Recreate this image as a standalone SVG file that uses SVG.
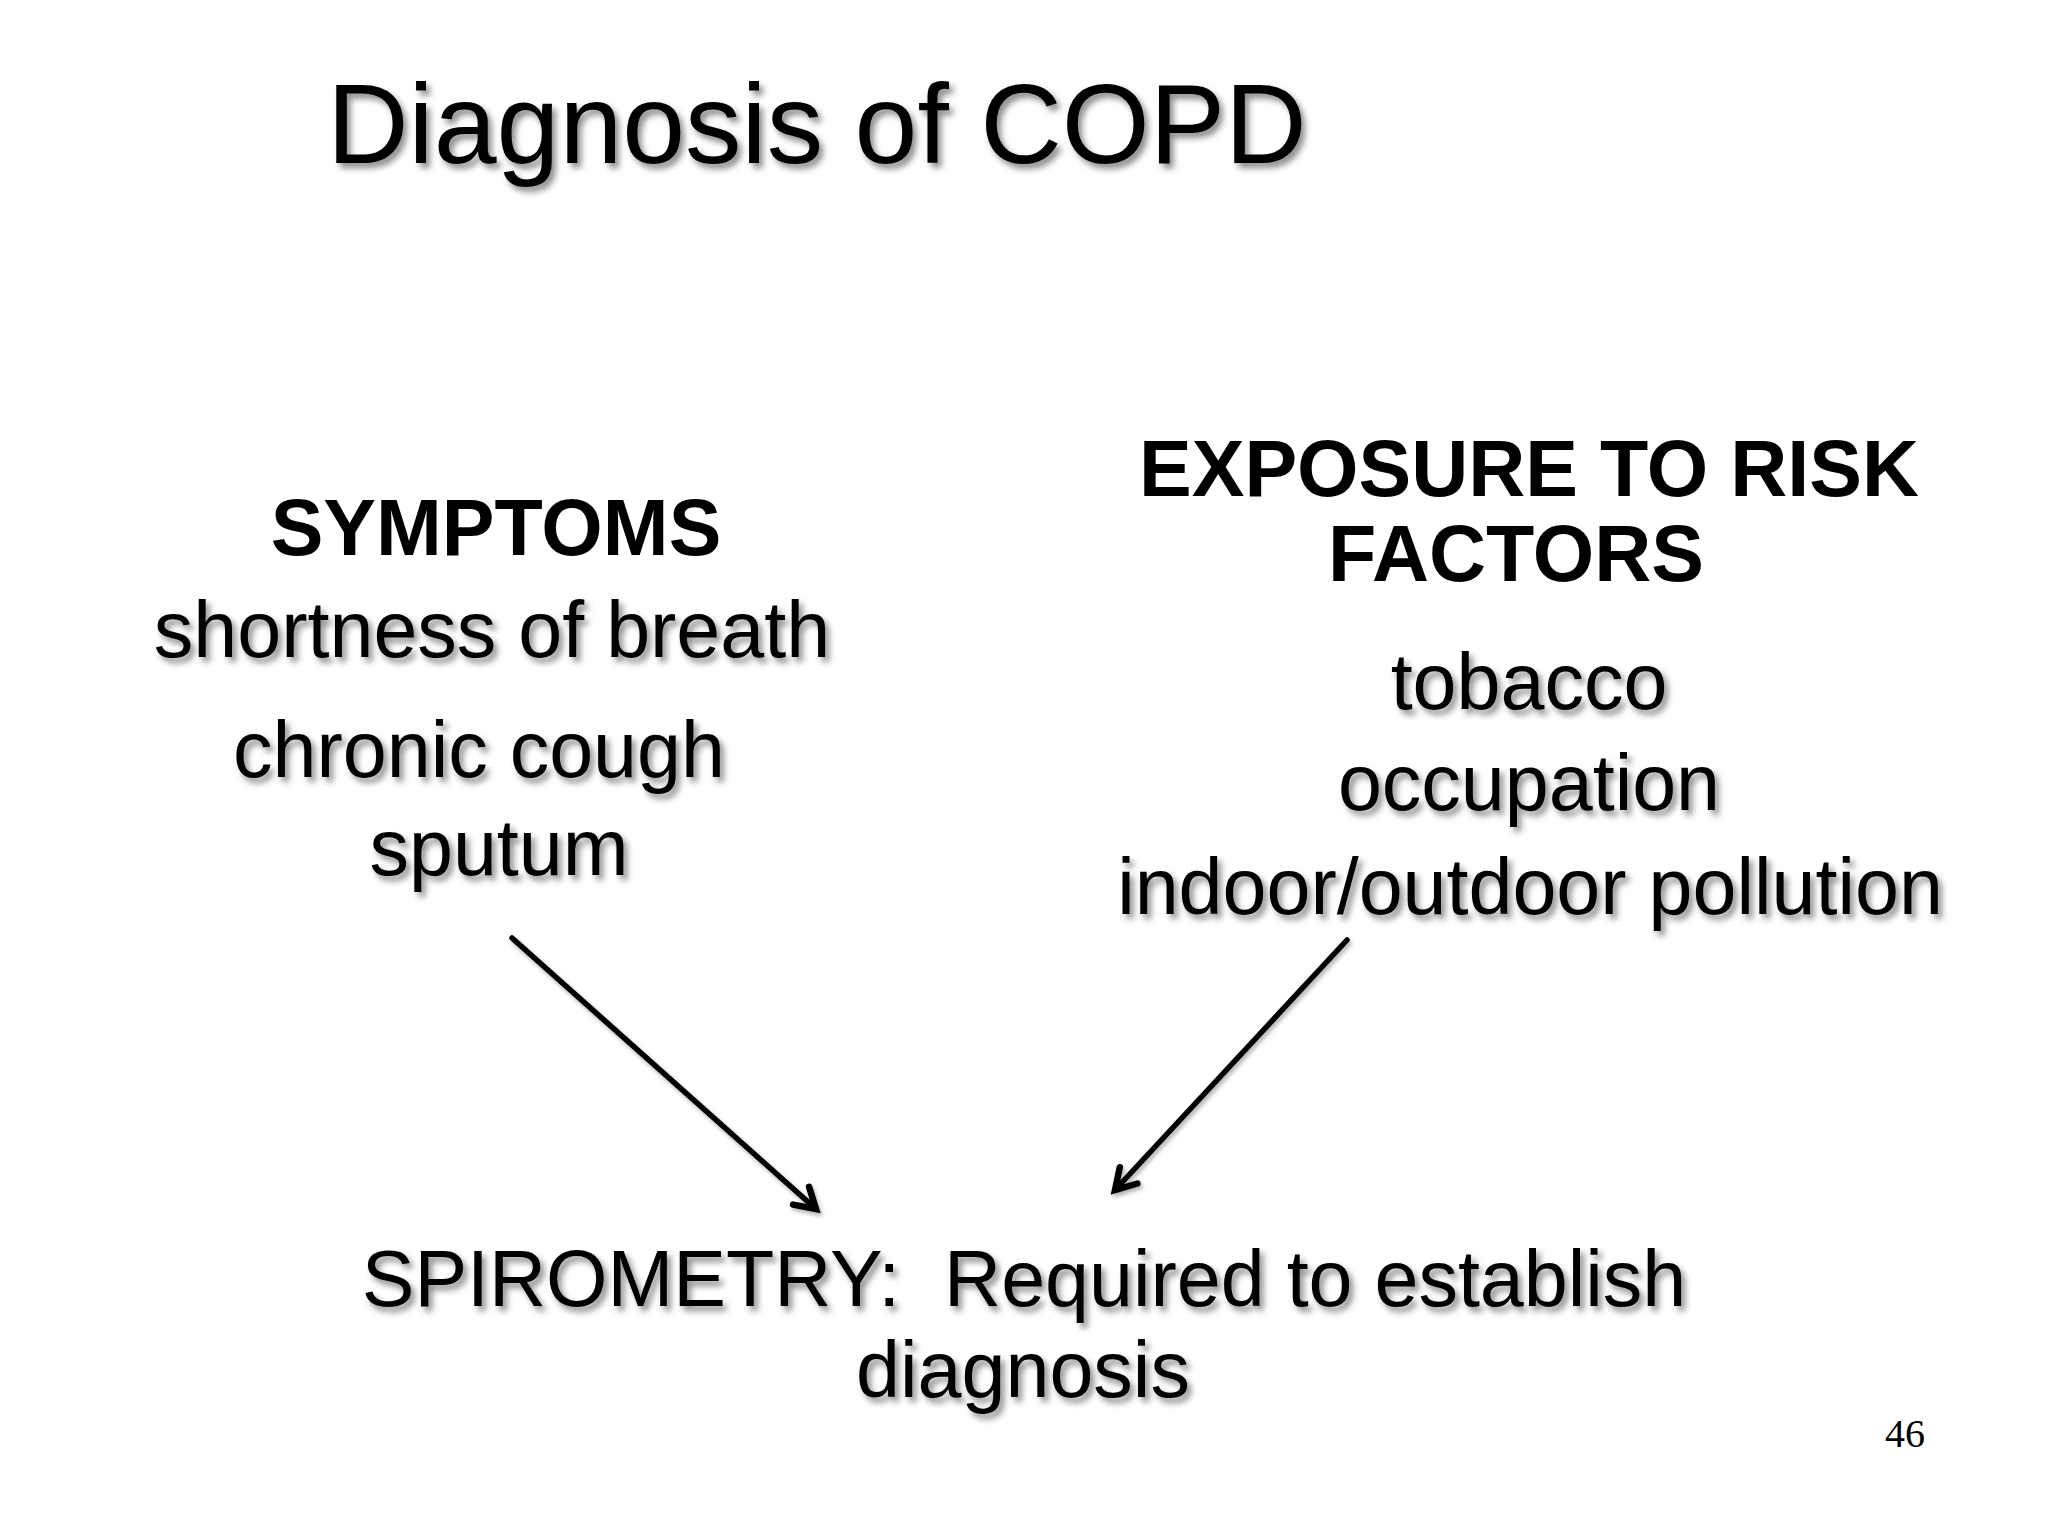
<svg xmlns="http://www.w3.org/2000/svg" width="2048" height="1536" viewBox="0 0 2048 1536">
<defs>
<style>
.t{font-family:"Liberation Sans",Arial,Helvetica,sans-serif;fill:#000}
.title{font-size:113px}
.hd{font-size:79px;font-weight:bold}
.it{font-size:79px;text-anchor:middle}
.sh{filter:url(#ds)}
.conn{stroke:#000;stroke-width:5.5;fill:none;stroke-linecap:round;marker-end:url(#arr);filter:url(#dsl)}
.pg{font-family:"Liberation Serif","Times New Roman",serif;font-size:40px;fill:#000}
</style>
<filter id="ds" x="-10%" y="-30%" width="120%" height="160%">
<feDropShadow dx="4" dy="5" stdDeviation="3" flood-color="#000" flood-opacity="0.45"/>
</filter>
<filter id="dsl" x="-10%" y="-10%" width="120%" height="120%">
<feDropShadow dx="2" dy="3" stdDeviation="2" flood-color="#000" flood-opacity="0.3"/>
</filter>
<marker id="arr" markerUnits="userSpaceOnUse" viewBox="-30 -20 40 40" markerWidth="40" markerHeight="40" refX="0" refY="0" orient="auto">
<path d="M-20,-12 L0,0 L-20,12" fill="none" stroke="#000" stroke-width="6.5" stroke-linecap="round" stroke-linejoin="miter"/>
</marker>
</defs>
<rect width="2048" height="1536" fill="#fff"/>
<g id="title">
<text class="t title sh" x="327" y="163">Diagnosis of COPD</text>
</g>
<g id="symptoms">
<text class="t hd" x="496" y="555" text-anchor="middle">SYMPTOMS</text>
<text class="t it sh" x="492" y="657">shortness of breath</text>
<text class="t it sh" x="479" y="777">chronic cough</text>
<text class="t it sh" x="499" y="875">sputum</text>
</g>
<g id="risk-factors">
<text class="t hd" x="1529" y="496" text-anchor="middle">EXPOSURE TO RISK</text>
<text class="t hd" x="1516" y="581" text-anchor="middle">FACTORS</text>
<text class="t it sh" x="1529" y="709">tobacco</text>
<text class="t it sh" x="1529" y="810">occupation</text>
<text class="t it sh" x="1530" y="914">indoor/outdoor pollution</text>
</g>
<g id="spirometry">
<text class="t it sh" x="1024" y="1306" xml:space="preserve">SPIROMETRY:  Required to establish</text>
<text class="t it sh" x="1023" y="1397">diagnosis</text>
</g>
<g id="connectors">
<line class="conn" x1="512" y1="938" x2="816" y2="1209"/>
<line class="conn" x1="1347" y1="940" x2="1115" y2="1190"/>
</g>
<g id="page-number">
<text class="pg" x="1885" y="1447">46</text>
</g>
</svg>
